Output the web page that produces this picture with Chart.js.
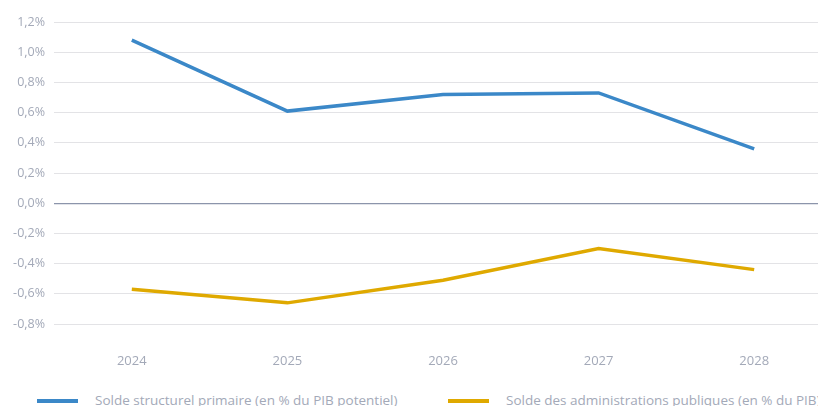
<!DOCTYPE html>
<html lang="fr">
<head>
  <meta charset="UTF-8" />
  <title>Soldes publics</title>
  <script src="https://cdn.jsdelivr.net/npm/chart.js"></script>
  <style>
    body {
      margin: 0;
      background: #ffffff;
      overflow: hidden;
      font-family: 'Open Sans', sans-serif;
    }
    #wrap {
      position: absolute;
      left: 0;
      top: 0;
      width: 832px;
      height: 373px;
    }
    .legend {
      position: absolute;
      top: 391px;
      font-size: 13.5px;
      color: #a3a9b8;
      white-space: nowrap;
    }
    .legend span {
      position: absolute;
      top: 8px;
      height: 4px;
      width: 41px;
    }
  </style>
</head>
<body>
  <div id="wrap"><canvas id="chart"></canvas></div>
  <div class="legend" style="left:37px"><span style="left:0;background:#3b88c8"></span><div style="margin-left:58px">Solde structurel primaire (en % du PIB potentiel)</div></div>
  <div class="legend" style="left:448px"><span style="left:0;background:#dfa900"></span><div style="margin-left:58px">Solde des administrations publiques (en % du PIB)</div></div>

  <script>
    const years = ['2024', '2025', '2026', '2027', '2028'];
    const soldeStructurel = [1.08, 0.61, 0.72, 0.73, 0.36];
    const soldeAPU = [-0.57, -0.66, -0.51, -0.30, -0.44];
    const yMin = -0.8, yMax = 1.2, yStep = 0.2;

    new Chart(document.getElementById('chart'), {
      type: 'line',
      data: {
        labels: years,
        datasets: [
          { label: 'Solde structurel primaire (en % du PIB potentiel)', data: soldeStructurel, borderColor: '#3b88c8', borderWidth: 3.5, pointRadius: 0, tension: 0 },
          { label: 'Solde des administrations publiques (en % du PIB)', data: soldeAPU, borderColor: '#dfa900', borderWidth: 3.5, pointRadius: 0, tension: 0 }
        ]
      },
      options: {
        responsive: true,
        maintainAspectRatio: false,
        animation: false,
        layout: { padding: { top: 22, right: 0, left: 0, bottom: 0 } },
        plugins: { legend: { display: false }, tooltip: { enabled: false } },
        scales: {
          x: {
            offset: true,
            grid: { display: false },
            border: { display: false },
            ticks: { color: '#a3a9b8', font: { family: 'Open Sans', size: 13 }, padding: 21 },
            afterFit: s => { s.height = 49; }
          },
          y: {
            min: yMin,
            max: yMax,
            border: { display: false },
            grid: {
              drawTicks: false,
              color: ctx => ctx.tick.value === 0 ? '#8c95ab' : '#e3e3e6',
              lineWidth: ctx => ctx.tick.value === 0 ? 1.3 : 1
            },
            ticks: {
              stepSize: yStep,
              color: '#a3a9b8',
              font: { family: 'Open Sans', size: 12.5 },
              padding: 9,
              callback: v => v.toFixed(1).replace('.', ',') + '%'
            },
            afterFit: s => { s.width = 54; }
          }
        }
      }
    });
  </script>
</body>
</html>
